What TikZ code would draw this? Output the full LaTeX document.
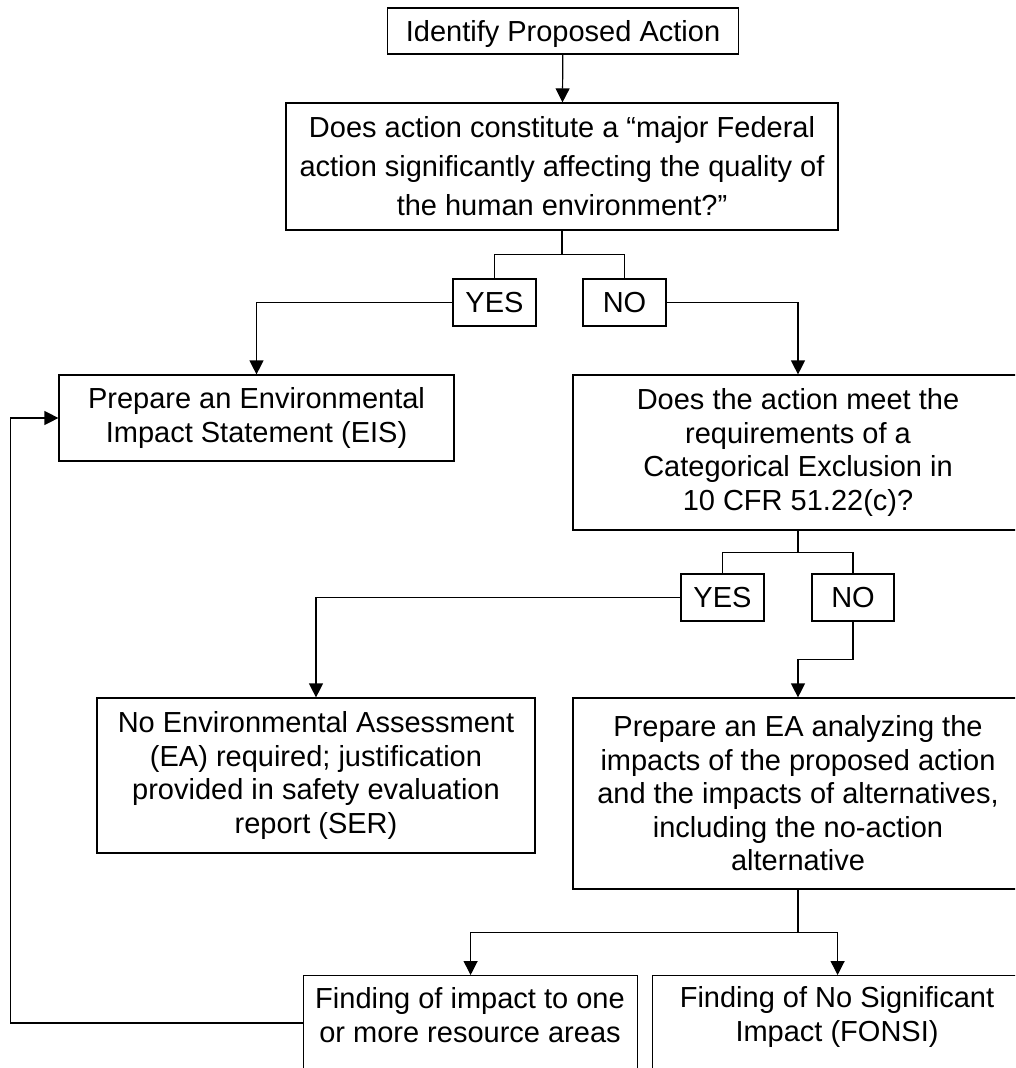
\documentclass[tikz,border=0pt]{standalone}
\usepackage{fontspec}
\setmainfont{Liberation Sans}
\usetikzlibrary{arrows.meta}
\begin{document}
\begin{tikzpicture}[x=1pt,y=-1pt,
  box/.style={draw=black, line width=1.2pt, rectangle, inner sep=0pt, align=center,
    font=\fontsize{29}{33.5}\selectfont},
  txt/.style={inner sep=0pt, align=center, font=\fontsize{29}{33.5}\selectfont},
  conn/.style={draw=black, line width=1.2pt},
  arr/.style={conn, -{Triangle[length=14pt,width=14pt]}}]
\clip (0,0) rectangle (1015,1068);
\fill[white] (0,0) rectangle (1015,1068);

\node[box, minimum width=351, minimum height=46, text height=21pt, text depth=0pt] (top) at (563,31) {Identify Proposed Action};
\node[box, minimum width=552, minimum height=127, font=\fontsize{29}{39}\selectfont] (q1) at (562,166.5)
  {Does action constitute a “major Federal\\action significantly affecting the quality of\\the human environment?”};
\node[box, minimum width=83, minimum height=47] (yes1) at (494.5,302.5) {YES};
\node[box, minimum width=83, minimum height=47] (no1) at (624.5,302.5) {NO};
\node[box, minimum width=395, minimum height=86] (eis) at (256.5,418)
  {Prepare an Environmental\\Impact Statement (EIS)};
\node[box, minimum width=450, minimum height=155] (q2) at (798,452.5)
  {Does the action meet the\\requirements of a\\Categorical Exclusion in\\10 CFR 51.22(c)?};
\node[box, minimum width=83, minimum height=47] (yes2) at (722.5,597.5) {YES};
\node[box, minimum width=82, minimum height=47] (no2) at (853,597.5) {NO};
\node[box, minimum width=438, minimum height=155] (noea) at (316,775.5)
  {No Environmental Assessment\\(EA) required; justification\\provided in safety evaluation\\report (SER)};
\node[box, minimum width=450, minimum height=191] (ea) at (798,793.5)
  {Prepare an EA analyzing the\\impacts of the proposed action\\and the impacts of alternatives,\\including the no-action\\alternative};
\node[box, minimum width=334, minimum height=140, anchor=north west] (finding) at (303,975) {};
\node[txt] (findingtxt) at (470,1015) {Finding of impact to one\\or more resource areas};
\node[box, minimum width=370, minimum height=140, anchor=north west] (fonsi) at (652,975) {};
\node[txt] (fonsitxt) at (837,1017) {Finding of No Significant\\Impact (FONSI)};

% connectors
\draw[arr] (top) -- (q1);
\draw[conn] (q1.south) -- ++(0,24) coordinate (s1);
\draw[conn] (yes1.north) |- (s1) -| (no1.north);
\draw[arr] (yes1.west) -| (eis.north);
\draw[arr] (no1.east) -| (q2.north);

\draw[conn] (q2.south) -- ++(0,22) coordinate (s2);
\draw[conn] (yes2.north) |- (s2) -| (no2.north);
\draw[arr] (yes2.west) -| (noea.north);
\draw[arr] (no2.south) -- ++(0,38) -| (ea.north);

\draw[conn] (ea.south) -- ++(0,43) coordinate (s3);
\draw[arr] (s3) -| (finding.north);
\draw[arr] (s3) -| (fonsi.north);

\draw[arr] ([yshift=-48pt]finding.north west) -| ([xshift=-48pt]eis.west) -- (eis.west);
\end{tikzpicture}
\end{document}
